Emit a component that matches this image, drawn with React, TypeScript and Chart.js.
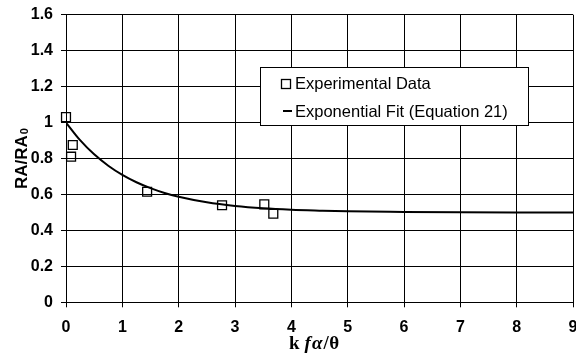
import { useEffect, useRef } from "react";
import { Chart, registerables } from "chart.js";

Chart.register(...registerables);

// Measured ratios (RA/RA0) against kfα/θ
const experimentalX = [0, 0.12, 0.09, 1.44, 2.77, 3.52, 3.68];
const experimentalY = [1.03, 0.875, 0.81, 0.615, 0.54, 0.545, 0.493];

// Exponential fit curve (Equation 21), sampled along the axis
const fitX = [0, 0.25, 0.5, 0.75, 1, 1.25, 1.5, 1.75, 2, 2.5, 3, 3.5, 4, 4.5, 5, 6, 7, 8, 9];
const fitY = [1.0, 0.902, 0.823, 0.76, 0.709, 0.668, 0.635, 0.608, 0.587, 0.556, 0.536, 0.523, 0.515, 0.51, 0.506, 0.503, 0.501, 0.5, 0.5];

const seriesLabels = ["Experimental Data", "Exponential Fit (Equation 21)"];
const yTitleMain = "RA/RA";
const yTitleSub = "0";
const xTitleGlyphs = ["k", "f", "α", "/", "θ"];

const SANS = '"Liberation Sans", Arial, sans-serif';
const SERIF = '"Liberation Serif", "Times New Roman", serif';

// plot frame bounds
const FRAME = { left: 66, right: 573, top: 14.7, bottom: 302.3 };

const fixArea = {
  id: "fixArea",
  // pin the plot frame so the last x label may overhang the canvas edge
  afterLayout(chart: any) {
    const a = chart.chartArea;
    a.left = FRAME.left;
    a.right = FRAME.right;
    a.top = FRAME.top;
    a.bottom = FRAME.bottom;
    a.width = a.right - a.left;
    a.height = a.bottom - a.top;
    const xs = chart.scales.x;
    xs.left = FRAME.left;
    xs.right = FRAME.right;
    xs.width = xs.right - xs.left;
    xs.top = FRAME.bottom;
    xs.bottom = chart.height;
    xs.height = xs.bottom - xs.top;
    xs.configure();
    const ys = chart.scales.y;
    ys.left = 0;
    ys.right = FRAME.left;
    ys.width = FRAME.left;
    ys.top = FRAME.top;
    ys.bottom = FRAME.bottom;
    ys.height = ys.bottom - ys.top;
    ys.configure();
  },
};

const annotations = {
  id: "annotations",
  afterDatasetsDraw(chart: any) {
    const ctx = chart.ctx as CanvasRenderingContext2D;
    // legend box
    ctx.save();
    ctx.fillStyle = "#fff";
    ctx.strokeStyle = "#000";
    ctx.lineWidth = 1;
    ctx.fillRect(260.5, 67.5, 268, 58);
    ctx.strokeRect(260.5, 67.5, 268, 58);
    ctx.lineWidth = 1.3;
    ctx.strokeRect(281.5, 79.5, 9, 9);
    ctx.lineWidth = 2;
    ctx.beginPath();
    ctx.moveTo(283, 111);
    ctx.lineTo(292, 111);
    ctx.stroke();
    ctx.fillStyle = "#000";
    ctx.font = `16.5px ${SANS}`;
    ctx.textBaseline = "middle";
    ctx.textAlign = "left";
    ctx.fillText(seriesLabels[0], 295, 84);
    ctx.fillText(seriesLabels[1], 295, 112);
    ctx.restore();
  },
  afterDraw(chart: any) {
    const ctx = chart.ctx as CanvasRenderingContext2D;
    const area = chart.chartArea;
    // y-axis title with subscript
    ctx.save();
    ctx.fillStyle = "#000";
    const mainFont = `bold 17px ${SANS}`;
    const subFont = `bold 11px ${SANS}`;
    ctx.font = mainFont;
    const wMain = ctx.measureText(yTitleMain).width;
    ctx.font = subFont;
    const wSub = ctx.measureText(yTitleSub).width;
    const total = wMain + wSub + 1;
    ctx.translate(26.5, (area.top + area.bottom) / 2);
    ctx.rotate(-Math.PI / 2);
    ctx.textBaseline = "alphabetic";
    ctx.textAlign = "left";
    ctx.font = mainFont;
    ctx.fillText(yTitleMain, -total / 2, 0);
    ctx.font = subFont;
    ctx.fillText(yTitleSub, -total / 2 + wMain + 1, 1);
    ctx.restore();

    // x-axis title: bold k, italic fα, then /θ
    ctx.save();
    ctx.fillStyle = "#000";
    const fonts = [
      `bold 19px ${SERIF}`,
      `italic bold 19px ${SERIF}`,
      `italic bold 19px ${SERIF}`,
      `bold 19px ${SERIF}`,
      `bold 19px ${SERIF}`,
    ];
    const gaps = [5, 1, 1, 0.5, 0];
    let x = 289;
    ctx.textBaseline = "alphabetic";
    ctx.textAlign = "left";
    xTitleGlyphs.forEach((t, i) => {
      ctx.font = fonts[i];
      ctx.fillText(t, x, 349);
      x += ctx.measureText(t).width + gaps[i];
    });
    ctx.restore();
  },
};

export default function App() {
  const canvasRef = useRef<HTMLCanvasElement | null>(null);

  useEffect(() => {
    document.body.style.margin = "0";
    const canvas = canvasRef.current;
    if (!canvas) return;

    const scatterData = experimentalX.map((x, i) => ({ x, y: experimentalY[i] }));
    const fitData = fitX.map((x, i) => ({ x, y: fitY[i] }));

    const chart = new Chart(canvas, {
      type: "scatter",
      data: {
        datasets: [
          {
            label: seriesLabels[0],
            data: scatterData,
            pointStyle: "rect",
            pointRadius: 6.3,
            pointBorderWidth: 1.3,
            pointBorderColor: "#000",
            pointBackgroundColor: "rgba(0,0,0,0)",
            showLine: false,
            clip: false,
          } as any,
          {
            label: seriesLabels[1],
            data: fitData,
            showLine: true,
            borderColor: "#000",
            borderWidth: 2,
            pointRadius: 0,
            cubicInterpolationMode: "monotone",
            fill: false,
          } as any,
        ],
      },
      options: {
        responsive: false,
        animation: false,
        events: [],
        layout: { padding: { top: 15, right: 3, left: 0, bottom: 0 } },
        plugins: {
          legend: { display: false },
          tooltip: { enabled: false },
          title: { display: false },
        },
        scales: {
          x: {
            type: "linear",
            min: 0,
            max: 9,
            ticks: {
              stepSize: 1,
              color: "#000",
              font: { family: SANS, size: 16, weight: "bold" },
              padding: 11,
              maxRotation: 0,
            },
            grid: { color: "#000", lineWidth: 1, tickLength: 5, tickColor: "#000" },
            border: { color: "#000", width: 1 },
          },
          y: {
            type: "linear",
            min: 0,
            max: 1.6,
            ticks: {
              stepSize: 0.2,
              color: "#000",
              font: { family: SANS, size: 16, weight: "bold" },
              padding: 8,
              callback: (v: any) => String(Number(Number(v).toFixed(1))),
            },
            grid: { color: "#000", lineWidth: 1, tickLength: 5, tickColor: "#000" },
            border: { color: "#000", width: 1 },
          },
        },
      } as any,
      plugins: [fixArea, annotations],
    });

    return () => chart.destroy();
  }, []);

  return (
    <div style={{ position: "fixed", left: 0, top: 0, width: 576, height: 356, background: "#fff" }}>
      <canvas ref={canvasRef} width={576} height={356} style={{ display: "block" }} />
    </div>
  );
}
